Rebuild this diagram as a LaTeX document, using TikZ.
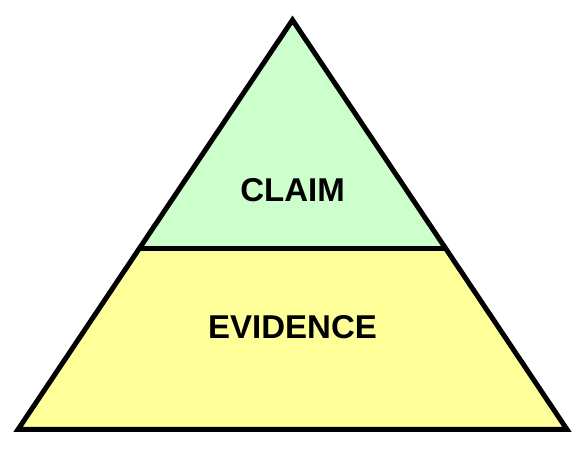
\documentclass[tikz,border=0pt]{standalone}
\usepackage{fontspec}
\setmainfont{Liberation Sans}
\usetikzlibrary{calc}
\definecolor{claimgreen}{HTML}{CCFFCC}
\definecolor{evidyellow}{HTML}{FFFF99}
\begin{document}
\begin{tikzpicture}[x=1pt,y=1pt,
  outline/.style={draw=black,line width=5pt,line join=miter},
  label/.style={font=\bfseries\fontsize{33}{36}\selectfont,text=black}]
\useasboundingbox (0,0) rectangle (584,460);
\coordinate (apex) at (292.5,440);
\coordinate (bl) at (18,30.5);
\coordinate (br) at (567,30.5);
\coordinate (dl) at ($(apex)!0.557!(bl)$);
\coordinate (dr) at ($(apex)!0.557!(br)$);
\fill[claimgreen] (apex) -- (dl) -- (dr) -- cycle;
\fill[evidyellow] (dl) -- (bl) -- (br) -- (dr) -- cycle;
\draw[outline] (apex) -- (bl) -- (br) -- cycle;
\draw[outline] (dl) -- (dr);
\node[label] (claim) at (292.5,270) {CLAIM};
\node[label] (evid) at (292.5,133) {EVIDENCE};
\end{tikzpicture}
\end{document}
